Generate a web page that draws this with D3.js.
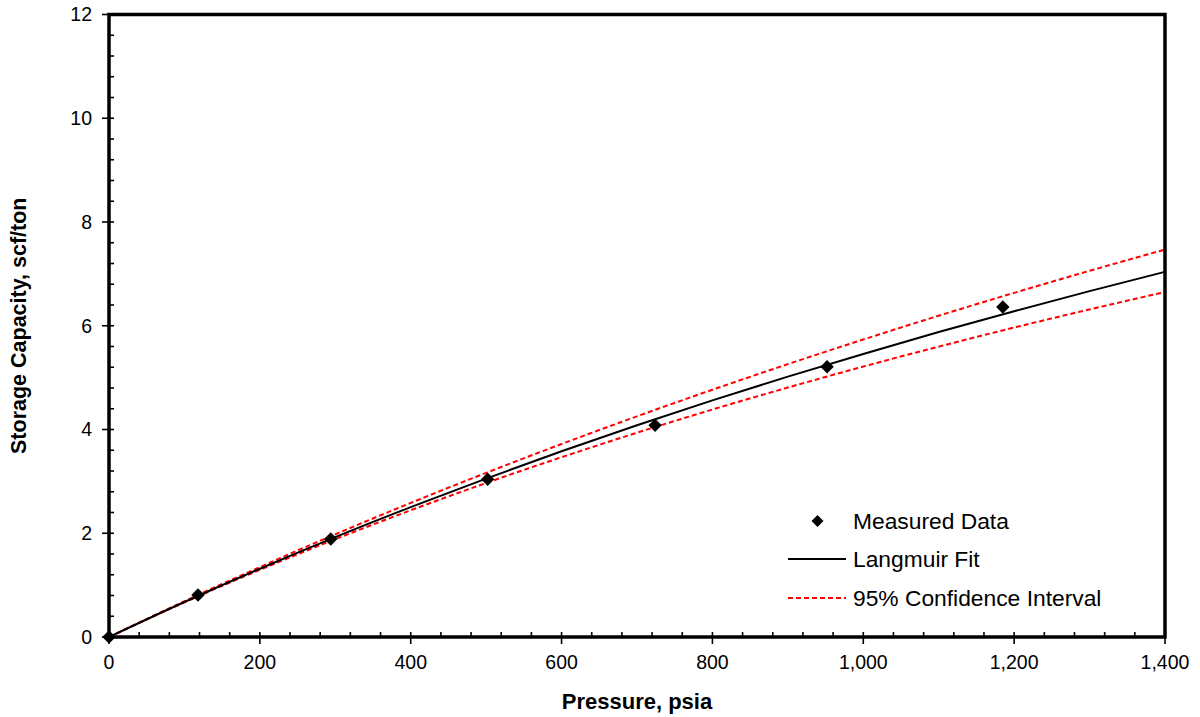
<!DOCTYPE html>
<html>
<head>
<meta charset="utf-8">
<script src="https://cdn.jsdelivr.net/npm/d3@7"></script>
<style>
  html, body { margin: 0; padding: 0; background: #fff; }
  svg { display: block; font-family: "Liberation Sans", Arial, sans-serif; }
</style>
</head>
<body>
<svg id="chart" width="1200" height="717"></svg>
<script>
// Measured isotherm points (pressure psia, storage scf/ton)
const measuredPressure = [0, 118, 294, 502, 724, 952, 1185];
const measuredStorage  = [0, 0.81, 1.89, 3.04, 4.08, 5.21, 6.36];

// Langmuir fit and its 95% confidence band, sampled every 100 psia
const curvePressure = [0, 100, 200, 300, 400, 500, 600, 700, 800, 900, 1000, 1100, 1200, 1300, 1400];
const fitStorage    = [0, 0.675, 1.316, 1.925, 2.503, 3.054, 3.580, 4.081, 4.561, 5.019, 5.457, 5.878, 6.281, 6.668, 7.040];
const upperStorage  = [0, 0.690, 1.349, 1.980, 2.585, 3.164, 3.720, 4.254, 4.767, 5.260, 5.735, 6.193, 6.634, 7.059, 7.470];
const lowerStorage  = [0, 0.668, 1.295, 1.886, 2.443, 2.969, 3.466, 3.938, 4.385, 4.809, 5.213, 5.598, 5.965, 6.315, 6.650];

// Axis ticks
const xMajorTicks = [0, 200, 400, 600, 800, 1000, 1200, 1400];
const yMajorTicks = [0, 2, 4, 6, 8, 10, 12];
const xMinorStep = 40;
const yMinorStep = 0.4;

const legendLabels = ["Measured Data", "Langmuir Fit", "95% Confidence Interval"];
const xTitle = "Pressure, psia";
const yTitle = "Storage Capacity, scf/ton";

const svg = d3.select("#chart");
const plot = { left: 109, right: 1165, top: 14.5, bottom: 637 };

const x = d3.scaleLinear().domain([0, 1400]).range([plot.left, plot.right]);
const y = d3.scaleLinear().domain([0, 12]).range([plot.bottom, plot.top]);

const fmt = d3.format(",");

// minor ticks (inside the frame)
const xMinor = d3.range(0, 1400 + 1e-9, xMinorStep).filter(v => Math.abs(v % 200) > 1e-6 && Math.abs(v % 200 - 200) > 1e-6);
const yMinor = d3.range(0, 12 + 1e-9, yMinorStep).map(v => +v.toFixed(2)).filter(v => Math.abs(v / 2 - Math.round(v / 2)) > 1e-6);

const ticks = svg.append("g").attr("stroke", "#000").attr("stroke-width", 1.6);
ticks.selectAll(".xmin").data(xMinor).join("line")
  .attr("x1", d => x(d)).attr("x2", d => x(d))
  .attr("y1", plot.bottom).attr("y2", plot.bottom - 5);
ticks.selectAll(".ymin").data(yMinor).join("line")
  .attr("y1", d => y(d)).attr("y2", d => y(d))
  .attr("x1", plot.left).attr("x2", plot.left + 5);
// major ticks (cross the frame)
ticks.selectAll(".xmaj").data(xMajorTicks).join("line")
  .attr("x1", d => x(d)).attr("x2", d => x(d))
  .attr("y1", plot.bottom - 5).attr("y2", plot.bottom + 7);
ticks.selectAll(".ymaj").data(yMajorTicks).join("line")
  .attr("y1", d => y(d)).attr("y2", d => y(d))
  .attr("x1", plot.left - 7).attr("x2", plot.left + 5);

// tick labels
svg.append("g").selectAll("text").data(xMajorTicks).join("text")
  .attr("x", d => x(d)).attr("y", plot.bottom + 32)
  .attr("text-anchor", "middle").attr("font-size", 19.5).attr("fill", "#000")
  .text(d => fmt(d));
svg.append("g").selectAll("text").data(yMajorTicks).join("text")
  .attr("x", plot.left - 17).attr("y", d => y(d)).attr("dy", "0.35em")
  .attr("text-anchor", "end").attr("font-size", 19.5).attr("fill", "#000")
  .text(d => d);

// axis titles
svg.append("text")
  .attr("x", (plot.left + plot.right) / 2).attr("y", 709)
  .attr("text-anchor", "middle").attr("font-size", 22).attr("font-weight", "bold")
  .text(xTitle);
svg.append("text")
  .attr("transform", `translate(25.5,${(plot.top + plot.bottom) / 2}) rotate(-90)`)
  .attr("text-anchor", "middle").attr("font-size", 21.5).attr("font-weight", "bold")
  .text(yTitle);

// curves
const line = d3.line().x(d => x(d[0])).y(d => y(d[1])).curve(d3.curveMonotoneX);
const toPts = vals => curvePressure.map((p, i) => [p, vals[i]]);

svg.append("defs").append("clipPath").attr("id", "clip")
  .append("rect").attr("x", plot.left).attr("y", plot.top)
  .attr("width", plot.right - plot.left).attr("height", plot.bottom - plot.top);

const curves = svg.append("g").attr("clip-path", "url(#clip)");
[upperStorage, lowerStorage].forEach(vals => {
  curves.append("path").attr("d", line(toPts(vals)))
    .attr("fill", "none").attr("stroke", "#ff0000").attr("stroke-width", 2)
    .attr("stroke-dasharray", "5,3");
});
curves.append("path").attr("d", line(toPts(fitStorage)))
  .attr("fill", "none").attr("stroke", "#000").attr("stroke-width", 2);

// frame
svg.append("rect")
  .attr("x", plot.left).attr("y", plot.top)
  .attr("width", plot.right - plot.left).attr("height", plot.bottom - plot.top)
  .attr("fill", "none").attr("stroke", "#000").attr("stroke-width", 3.5);

// measured points
const diamond = size => d3.symbol().type(d3.symbolSquare).size(size)();
svg.append("g").selectAll("path").data(measuredPressure.map((p, i) => [p, measuredStorage[i]])).join("path")
  .attr("d", diamond(90))
  .attr("transform", d => `translate(${x(d[0])},${y(d[1])}) rotate(45)`)
  .attr("fill", "#000");

// legend
const lg = svg.append("g").attr("font-size", 22.8).attr("fill", "#000");
const rows = [521, 559, 598];
lg.append("path").attr("d", diamond(72))
  .attr("transform", `translate(817.5,${rows[0]}) rotate(45)`).attr("fill", "#000");
lg.append("line").attr("x1", 788).attr("x2", 846).attr("y1", rows[1]).attr("y2", rows[1])
  .attr("stroke", "#000").attr("stroke-width", 2);
lg.append("line").attr("x1", 788).attr("x2", 846).attr("y1", rows[2]).attr("y2", rows[2])
  .attr("stroke", "#ff0000").attr("stroke-width", 2).attr("stroke-dasharray", "5,3");
lg.selectAll("text").data(legendLabels).join("text")
  .attr("x", 853).attr("y", (d, i) => rows[i]).attr("dy", "0.35em")
  .text(d => d);
</script>
</body>
</html>
